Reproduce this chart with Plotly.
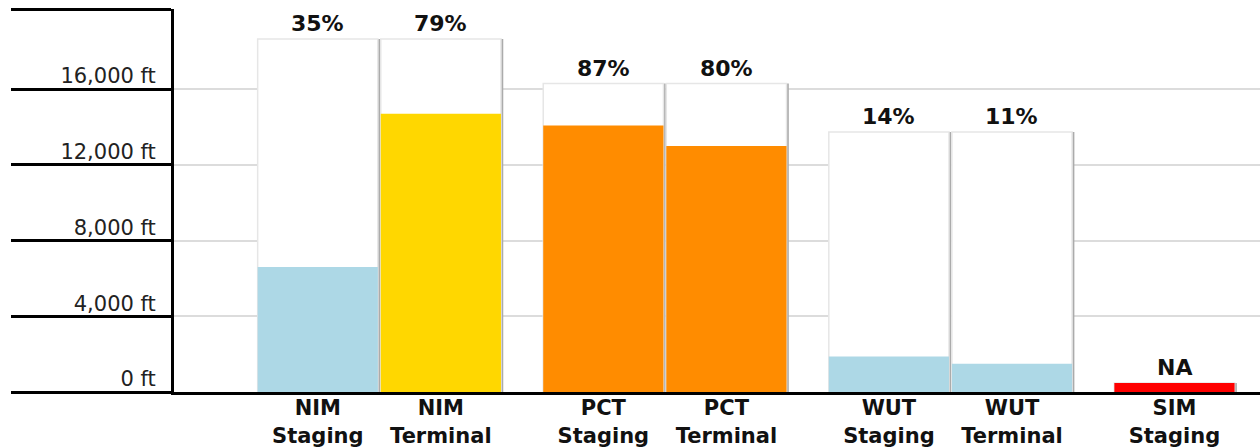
import plotly.graph_objects as go

# ---- data ----
stations = ["NIM", "NIM", "PCT", "PCT", "WUT", "WUT", "SIM"]
kinds = ["Staging", "Terminal", "Staging", "Terminal", "Staging", "Terminal", "Staging"]
capacity_ft = [18640, 18640, 16290, 16290, 13730, 13730, 470]
filled_ft = [6605, 14700, 14080, 13000, 1876, 1487, 470]
pct_labels = ["35%", "79%", "87%", "80%", "14%", "11%", "NA"]
y_tick_vals = [0, 4000, 8000, 12000, 16000, 20230]
y_tick_text = ["0 ft", "4,000 ft", "8,000 ft", "12,000 ft", "16,000 ft", ""]
y_max = 20230

# ---- layout helpers ----
group_order = []
for s in stations:
    if s not in group_order:
        group_order.append(s)
kind_offset = {"Staging": -0.2155, "Terminal": 0.2155}
xpos = [group_order.index(s) + kind_offset[k] for s, k in zip(stations, kinds)]
bar_w = 0.421
shadow_dx = 0.008


def fill_color(label):
    if not label.endswith("%"):
        return "#FF0000"
    v = float(label[:-1])
    if v >= 80:
        return "#FF8C00"
    if v >= 50:
        return "#FFD700"
    return "#ADD8E6"


colors = [fill_color(p) for p in pct_labels]
FONT = "DejaVu Sans"

fig = go.Figure()
# shadow on the right edge
fig.add_trace(go.Bar(
    x=xpos, y=capacity_ft, width=bar_w, offset=-bar_w / 2 + shadow_dx,
    marker=dict(color="#ababab", line=dict(width=0)), hoverinfo="skip", showlegend=False))
# capacity box
fig.add_trace(go.Bar(
    x=xpos, y=capacity_ft, width=bar_w, offset=-bar_w / 2,
    marker=dict(color="#ffffff", line=dict(color="#e6e6e6", width=1.5)),
    hoverinfo="skip", showlegend=False))
# filled amount
fig.add_trace(go.Bar(
    x=xpos, y=filled_ft, width=bar_w, offset=-bar_w / 2,
    marker=dict(color=colors, line=dict(width=0)),
    hoverinfo="skip", showlegend=False))

for xp, cap, lab in zip(xpos, capacity_ft, pct_labels):
    fig.add_annotation(x=xp, y=cap, text="<b>%s</b>" % lab, showarrow=False,
                       yanchor="bottom", yshift=1,
                       font=dict(family=FONT, size=22, color="#111111"))

fig.update_layout(
    width=1260, height=448, autosize=False,
    margin=dict(l=174, r=0, t=9, b=54),
    barmode="overlay",
    paper_bgcolor="white", plot_bgcolor="white",
    showlegend=False,
    font=dict(family=FONT),
    xaxis=dict(
        range=[-0.719, 3.084], tickvals=xpos,
        ticktext=["<b>%s<br>%s</b>" % (s, k) for s, k in zip(stations, kinds)],
        tickfont=dict(family=FONT, size=21, color="#111111"),
        showgrid=False, zeroline=False, ticks="", ticklabelstandoff=-5,
        showline=True, linecolor="black", linewidth=3,
    ),
    yaxis=dict(
        range=[0, y_max], tickvals=y_tick_vals, ticktext=y_tick_text,
        tickfont=dict(family=FONT, size=21, color="#222222"),
        ticks="outside", ticklen=160, tickwidth=3, tickcolor="black",
        ticklabelstandoff=-149, ticklabelshift=-13,
        showgrid=True, gridcolor="#dcdcdc", gridwidth=2,
        zeroline=False, showline=True, linecolor="black", linewidth=3,
    ),
)

fig.write_html(
    "out.html",
    config={"responsive": False, "displayModeBar": False},
    post_script="document.body.style.margin='0';document.body.style.overflow='hidden';",
)
